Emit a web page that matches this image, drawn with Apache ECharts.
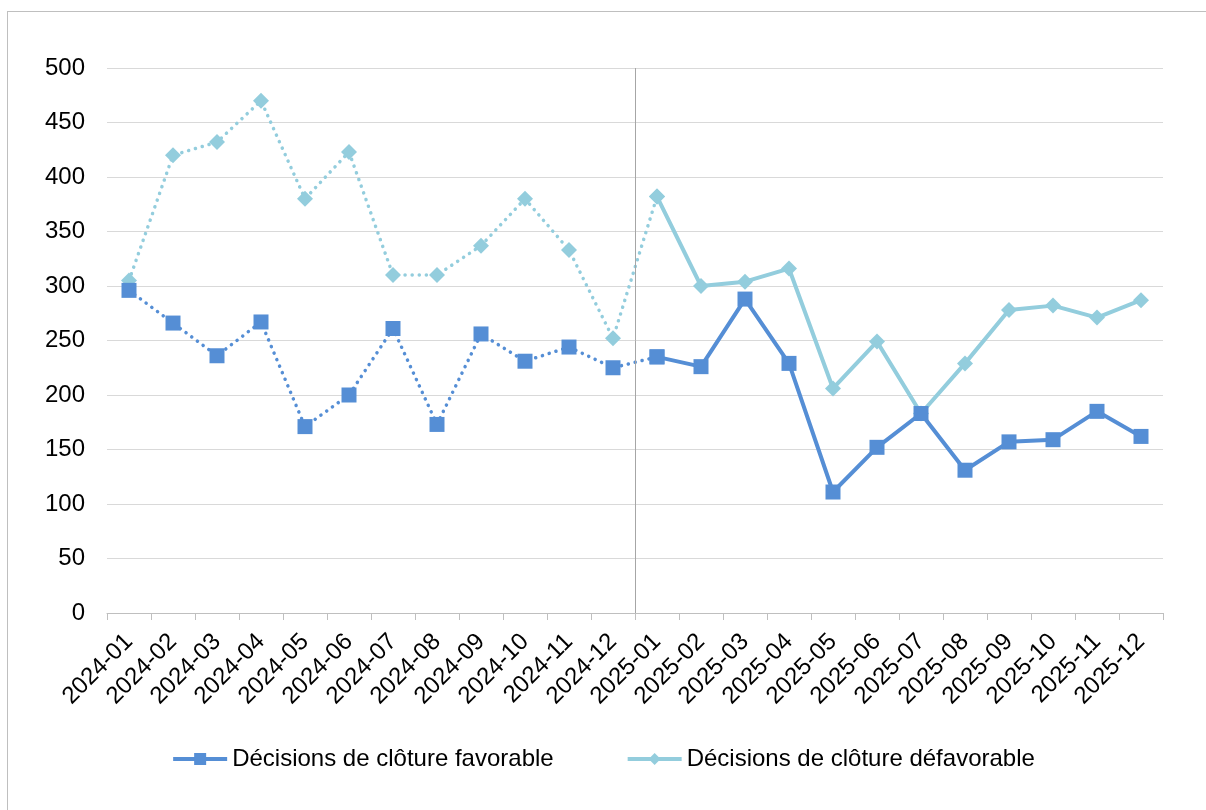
<!DOCTYPE html>
<html>
<head>
<meta charset="utf-8">
<script src="https://cdn.jsdelivr.net/npm/echarts@6/dist/echarts.min.js"></script>
<style>
html,body{margin:0;padding:0;background:#fff;}
#frame{position:absolute;left:7px;top:11px;width:1300px;height:900px;border:1px solid #BFBFBF;box-sizing:border-box;}
#chart{position:absolute;left:0;top:0;width:1206px;height:810px;}
</style>
</head>
<body>
<div id="frame"></div>
<div id="chart"></div>
<script>
const categories = ['2024-01','2024-02','2024-03','2024-04','2024-05','2024-06','2024-07','2024-08','2024-09','2024-10','2024-11','2024-12',
  '2025-01','2025-02','2025-03','2025-04','2025-05','2025-06','2025-07','2025-08','2025-09','2025-10','2025-11','2025-12'];
const favorable = [296,266,236,267,171,200,261,173,256,231,244,225, 235,226,288,229,111,152,183,131,157,159,185,162];
const defavorable = [305,420,432,470,380,423,310,310,337,380,333,252, 382,300,304,316,206,249,183,229,278,282,271,287];
const yTicks = [0,50,100,150,200,250,300,350,400,450,500];
const splitIndex = 12; // first month of 2025

const nameFav = 'Décisions de clôture favorable';
const nameDef = 'Décisions de clôture défavorable';
const colFav = '#558ED5';
const colDef = '#93CDDD';

function part(arr, from, to){ return arr.map((v,i)=> (i>=from && i<=to) ? v : '-'); }

const chart = echarts.init(document.getElementById('chart'), null, {renderer:'canvas'});
const font = 'Liberation Sans, Arial, sans-serif';
const fs = 24;
chart.setOption({
  animation:false,
  textStyle:{fontFamily:font},
  grid:{left:107, right:43, top:68, bottom:197, containLabel:false},
  legend:{
    top:742, left:'center', itemGap:72, itemWidth:54, itemHeight:15,
    data:[{name:nameFav, lineStyle:{width:4}}, {name:nameDef, lineStyle:{width:4}}],
    textStyle:{fontSize:fs, color:'#000', fontFamily:font}
  },
  xAxis:[{
    type:'category', data:categories, boundaryGap:true,
    axisLine:{lineStyle:{color:'#BFBFBF', width:1}},
    axisTick:{show:true, length:7, lineStyle:{color:'#BFBFBF'}},
    axisLabel:{rotate:45, fontSize:fs, color:'#000', fontFamily:font, margin:25, interval:0},
    splitLine:{show:false}
  },{
    type:'value', min:0, max:categories.length, show:false
  }],
  yAxis:{
    type:'value', min:yTicks[0], max:yTicks[yTicks.length-1], interval:50,
    axisLine:{show:false}, axisTick:{show:false},
    axisLabel:{fontSize:fs, color:'#000', fontFamily:font, margin:22},
    splitLine:{lineStyle:{color:'#D9D9D9', width:1}}
  },
  series:[
    {name:'separator', type:'line', xAxisIndex:1, data:[], silent:true,
      markLine:{silent:true, symbol:'none', label:{show:false},
        lineStyle:{color:'#A6A6A6', width:1, type:'solid'},
        data:[{xAxis:splitIndex}]}},
    {name:nameFav+' 2024', type:'line', data:part(favorable,0,splitIndex), symbol:'rect', symbolSize:15,
      itemStyle:{color:colFav}, lineStyle:{color:colFav, width:3.5, type:[0.1,7], cap:'round'}, z:3},
    {name:nameDef+' 2024', type:'line', data:part(defavorable,0,splitIndex), symbol:'diamond', symbolSize:16,
      itemStyle:{color:colDef}, lineStyle:{color:colDef, width:3.5, type:[0.1,7], cap:'round'}, z:2},
    {name:nameFav, type:'line', data:part(favorable,splitIndex,23), symbol:'rect', symbolSize:15,
      itemStyle:{color:colFav}, lineStyle:{color:colFav, width:4}, z:3},
    {name:nameDef, type:'line', data:part(defavorable,splitIndex,23), symbol:'diamond', symbolSize:16,
      itemStyle:{color:colDef}, lineStyle:{color:colDef, width:4}, z:2}
  ]
});
</script>
</body>
</html>
